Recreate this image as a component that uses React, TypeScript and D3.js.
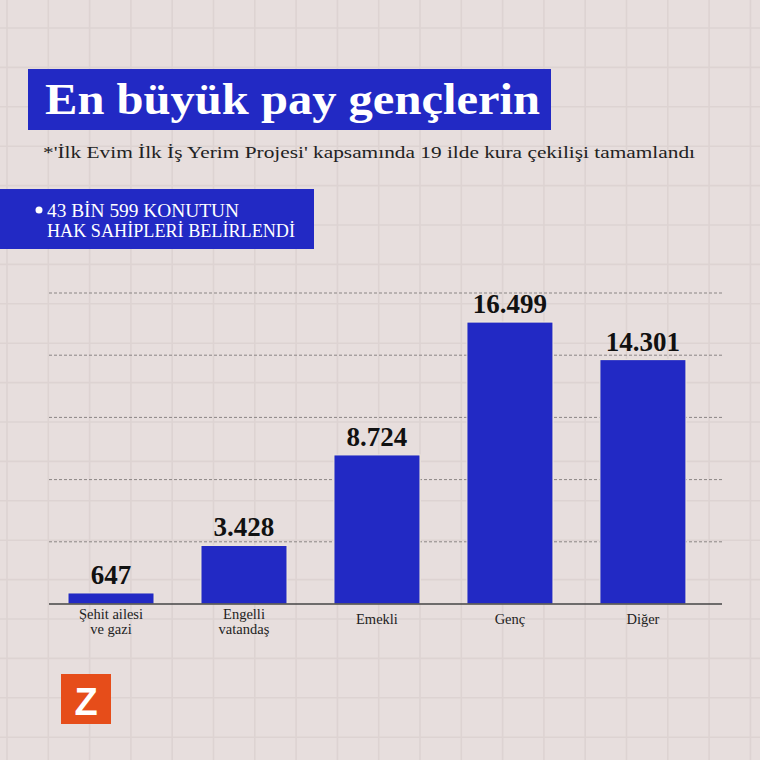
import * as d3 from 'd3';
import { useEffect, useRef } from 'react';

const categories = ['Şehit ailesi\nve gazi', 'Engelli\nvatandaş', 'Emekli', 'Genç', 'Diğer'];
const values = [647, 3428, 8724, 16499, 14301];
const valueLabels = ['647', '3.428', '8.724', '16.499', '14.301'];
const gridTicks = [3640, 7280, 10920, 14560, 18200];

const title = 'En büyük pay gençlerin';
const subtitle = "*'İlk Evim İlk İş Yerim Projesi' kapsamında 19 ilde kura çekilişi tamamlandı";
const boxLines = ['43 BİN 599 KONUTUN', 'HAK SAHİPLERİ BELİRLENDİ'];

const W = 760;
const H = 760;
const BLUE = '#2229c4';
const BG = '#e7dedd';
const SERIF = '"Liberation Serif", "DejaVu Serif", serif';

function App() {
  const svgRef = useRef<SVGSVGElement>(null);

  useEffect(() => {
    const svg = d3.select(svgRef.current);
    svg.selectAll('*').remove();

    svg.append('rect').attr('width', W).attr('height', H).attr('fill', BG);

    // background paper grid
    const bgGrid = svg.append('g').attr('stroke', '#ddd3d2').attr('stroke-width', 1.6);
    d3.range(19).forEach(i => {
      const x = 7 + i * 41.3;
      bgGrid.append('line').attr('x1', x).attr('x2', x).attr('y1', 0).attr('y2', H);
      const y = 28 + i * 39.4;
      bgGrid.append('line').attr('x1', 0).attr('x2', W).attr('y1', y).attr('y2', y);
    });

    // title block
    svg.append('rect').attr('x', 28).attr('y', 69).attr('width', 523).attr('height', 61).attr('fill', BLUE);
    svg.append('text')
      .attr('x', 45).attr('y', 114)
      .attr('fill', '#fff')
      .style('font-family', SERIF).style('font-weight', 'bold').style('font-size', '45px')
      .attr('textLength', 495).attr('lengthAdjust', 'spacingAndGlyphs')
      .text(title);

    svg.append('text')
      .attr('x', 43).attr('y', 158)
      .attr('fill', '#222')
      .style('font-family', SERIF).style('font-size', '17px')
      .attr('textLength', 652).attr('lengthAdjust', 'spacingAndGlyphs')
      .text(subtitle);

    // info box
    svg.append('rect').attr('x', 0).attr('y', 189).attr('width', 314).attr('height', 60).attr('fill', BLUE);
    svg.append('circle').attr('cx', 39).attr('cy', 210).attr('r', 3.5).attr('fill', '#fff');
    boxLines.forEach((t, i) => {
      svg.append('text')
        .attr('x', 47).attr('y', 217 + i * 20)
        .attr('fill', '#fff')
        .style('font-family', SERIF).style('font-size', '18px')
        .attr('textLength', i === 0 ? 192 : 248).attr('lengthAdjust', 'spacingAndGlyphs')
        .text(t);
    });

    // chart
    const left = 49, right = 722, base = 604, top = 293;
    const x = d3.scaleBand<string>()
      .domain(categories)
      .range([left, right])
      .paddingInner(0.353)
      .paddingOuter(0.207)
      .align(0.345);
    const y = d3.scaleLinear().domain([0, 18200]).range([base, top]);

    svg.append('g')
      .selectAll('line')
      .data(gridTicks)
      .join('line')
      .attr('x1', left).attr('x2', right + 2)
      .attr('y1', d => y(d)).attr('y2', d => y(d))
      .attr('stroke', '#8a8584').attr('stroke-width', 1)
      .attr('stroke-dasharray', '3,2');

    svg.append('g')
      .selectAll('rect')
      .data(values)
      .join('rect')
      .attr('x', (d, i) => x(categories[i])!)
      .attr('y', d => y(d))
      .attr('width', x.bandwidth())
      .attr('height', d => base - y(d))
      .attr('fill', BLUE)
      .attr('stroke', '#f4ecdc').attr('stroke-width', 1);

    svg.append('line')
      .attr('x1', left).attr('x2', right)
      .attr('y1', base).attr('y2', base)
      .attr('stroke', '#444').attr('stroke-width', 1.5);

    svg.append('g')
      .selectAll('text')
      .data(values)
      .join('text')
      .attr('x', (d, i) => x(categories[i])! + x.bandwidth() / 2)
      .attr('y', d => y(d) - 9)
      .attr('text-anchor', 'middle')
      .attr('fill', '#111')
      .style('font-family', SERIF).style('font-weight', 'bold').style('font-size', '27px')
      .text((d, i) => valueLabels[i]);

    // category labels, one <text> per line
    categories.forEach(c => {
      const lines = c.split('\n');
      lines.forEach((line, j) => {
        svg.append('text')
          .attr('x', x(c)! + x.bandwidth() / 2)
          .attr('y', (lines.length > 1 ? 619 : 624) + j * 15)
          .attr('text-anchor', 'middle')
          .attr('fill', '#222')
          .style('font-family', SERIF).style('font-size', '14.5px')
          .text(line);
      });
    });

    // logo
    svg.append('rect').attr('x', 61).attr('y', 674).attr('width', 50).attr('height', 50).attr('fill', '#e64d1a');
    svg.append('text')
      .attr('x', 86).attr('y', 715)
      .attr('text-anchor', 'middle')
      .attr('fill', '#fff')
      .style('font-family', '"Liberation Sans", Arial, sans-serif').style('font-weight', 'bold').style('font-size', '38px')
      .text('Z');
  }, []);

  return (
    <svg
      ref={svgRef}
      width={W}
      height={H}
      style={{ position: 'fixed', top: 0, left: 0, display: 'block' }}
    />
  );
}

export default App;
